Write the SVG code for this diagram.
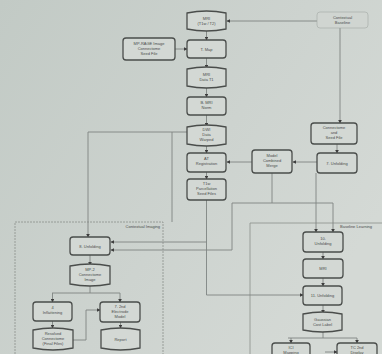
<svg xmlns="http://www.w3.org/2000/svg" width="382" height="354" viewBox="0 0 382 354">
<defs>
<linearGradient id="bg" x1="0" y1="0" x2="1" y2="0.6">
<stop offset="0" stop-color="#c2cac5"/>
<stop offset="0.6" stop-color="#cdd3cf"/>
<stop offset="1" stop-color="#d4d9d5"/>
</linearGradient>
<marker id="ah" viewBox="0 0 6 6" refX="5" refY="3" markerWidth="4" markerHeight="4" orient="auto">
<path d="M0,0 L6,3 L0,6 z" fill="#3e3e3e"/>
</marker>
<style>
.n{fill:#d3d8d4;stroke:#4a4d4b;stroke-width:1.3}
.t{font-family:"Liberation Sans",Arial,sans-serif;font-size:4px;fill:#4a4d4b;text-anchor:middle}
.gl{font-family:"Liberation Sans",Arial,sans-serif;font-size:4px;fill:#4a4d4b}
.c{fill:none;stroke:#7f8582;stroke-width:0.9}
.ca{fill:none;stroke:#7f8582;stroke-width:0.9;marker-end:url(#ah)}
.g{fill:none;stroke:#8a908c;stroke-width:0.8}
</style>
</defs>
<rect width="382" height="354" fill="url(#bg)"/>

<g id="groups">
<rect x="15" y="222" width="148" height="140" class="g" stroke-dasharray="2,1"/>
<text class="gl" x="160" y="228" text-anchor="end">Contextual Imaging</text>
<path d="M250,360 V223 H390" class="g"/>
<text class="gl" x="340" y="228">Baseline Learning</text>
</g>

<g id="connectors">
<path class="ca" d="M206.5,30 V40"/>
<path class="ca" d="M206.5,58 V68"/>
<path class="ca" d="M206.5,87 V97"/>
<path class="ca" d="M206.5,115 V126"/>
<path class="ca" d="M206.5,145 V153"/>
<path class="ca" d="M206.5,172 V179"/>
<path class="ca" d="M175,49 H187"/>
<path class="ca" d="M317,21 H227"/>
<path class="ca" d="M340,28 V123"/>
<path class="ca" d="M337,144 V153"/>
<path class="ca" d="M252,162 H227"/>
<path class="ca" d="M317,162 H293"/>
<path class="c" d="M272,173 V203"/>
<path class="c" d="M232,250 V203 H333"/>
<path class="ca" d="M333,203 V232"/>
<path class="ca" d="M316,173 V232"/>
<path class="ca" d="M206.5,200 V295 H303"/>
<path class="ca" d="M206.5,242 H111"/>
<path class="ca" d="M232,250 H111"/>
<path class="ca" d="M187,132 H88 V237"/>
<path class="c" d="M172,132 V222"/>
<path class="ca" d="M90,255 V265"/>
<path class="c" d="M90,285 V293 M52,293 H120"/>
<path class="ca" d="M52.5,293 V302"/>
<path class="ca" d="M120,293 V302"/>
<path class="ca" d="M52.5,321 V328"/>
<path class="ca" d="M120.5,322 V328"/>
<path class="ca" d="M73,340 H86 V310 H100"/>
<path class="ca" d="M323,252 V259"/>
<path class="ca" d="M323,278 V286"/>
<path class="ca" d="M323,305 V313"/>
<path class="c" d="M323,331 V338 M288,338 H357"/>
<path class="ca" d="M291,338 V343"/>
<path class="ca" d="M357,338 V343"/>
<path class="ca" d="M325,352 H337"/>
</g>

<g id="nodes">
<g id="n1"><path class="n" d="M187,13 Q206.5,9 226,13 V29 Q206.5,33 187,29 Z"/><text class="t" x="206.5" y="20">MRI</text><text class="t" x="206.5" y="25">(T1w / T2)</text></g>
<g id="n2"><rect class="n" x="187" y="40" width="39" height="18" rx="3"/><text class="t" x="206.5" y="50.5">T. Map</text></g>
<g id="n3"><path class="n" d="M187,69 Q206.5,65 226,69 V86 Q206.5,90 187,86 Z"/><text class="t" x="206.5" y="76">MRI</text><text class="t" x="206.5" y="81">Data T1</text></g>
<g id="n4"><rect class="n" x="187" y="97" width="39" height="18" rx="3"/><text class="t" x="206.5" y="104">B. MRI</text><text class="t" x="206.5" y="109">Norm</text></g>
<g id="n5"><path class="n" d="M187,127 Q206.5,123 226,127 V144 Q206.5,148 187,144 Z"/><text class="t" x="206.5" y="131">DWI</text><text class="t" x="206.5" y="136">Data</text><text class="t" x="206.5" y="141">Warped</text></g>
<g id="n6"><rect class="n" x="187" y="153" width="39" height="19" rx="3"/><text class="t" x="206.5" y="160">AT</text><text class="t" x="206.5" y="165">Registration</text></g>
<g id="n7"><rect class="n" x="187" y="179" width="39" height="21" rx="3"/><text class="t" x="206.5" y="185">T1w</text><text class="t" x="206.5" y="190">Parcellation</text><text class="t" x="206.5" y="195">Seed Files</text></g>
<g id="nl"><rect class="n" x="123" y="38" width="52" height="22" rx="3"/><text class="t" x="149" y="45">MP-RAGE Image</text><text class="t" x="149" y="50">Connectome</text><text class="t" x="149" y="55">Seed File</text></g>
<g id="ntr"><rect x="317" y="12" width="51" height="16" rx="3" fill="#d0d5d1" stroke="#a3a9a5" stroke-width="0.6"/><text class="t" x="342.5" y="19">Contextual</text><text class="t" x="342.5" y="24">Baseline</text></g>
<g id="ncn"><rect class="n" x="311" y="123" width="46" height="21" rx="3"/><text class="t" x="334" y="129">Connectome</text><text class="t" x="334" y="134">and</text><text class="t" x="334" y="139">Seed File</text></g>
<g id="nu7"><rect class="n" x="317" y="153" width="40" height="20" rx="3"/><text class="t" x="337" y="164.5">7. Unfolding</text></g>
<g id="nmm"><rect class="n" x="252" y="150" width="40" height="23" rx="3"/><text class="t" x="272" y="157">Model</text><text class="t" x="272" y="162">Combined</text><text class="t" x="272" y="167">Merge</text></g>
<g id="nu8"><rect class="n" x="70" y="237" width="40" height="18" rx="3"/><text class="t" x="90" y="247.5">8. Unfolding</text></g>
<g id="nmp2"><path class="n" d="M70,266 Q90,262 110,266 V284 Q90,288 70,284 Z"/><text class="t" x="90" y="271">MP-2</text><text class="t" x="90" y="276">Connectome</text><text class="t" x="90" y="281">Image</text></g>
<g id="ninf"><rect class="n" x="33" y="302" width="39" height="19" rx="3"/><text class="t" x="52.5" y="309">4</text><text class="t" x="52.5" y="314">Inflattening</text></g>
<g id="ne2"><rect class="n" x="100" y="302" width="40" height="20" rx="3"/><text class="t" x="120" y="308">7. 2nd</text><text class="t" x="120" y="313">Electrode</text><text class="t" x="120" y="318">Model</text></g>
<g id="nres"><path class="n" d="M33,330 Q53,326 73,330 V348 Q53,352 33,348 Z"/><text class="t" x="53" y="335">Resolved</text><text class="t" x="53" y="340">Connectome</text><text class="t" x="53" y="345">(Final Files)</text></g>
<g id="nrep"><path class="n" d="M101,330 Q120.5,326 140,330 V348 Q120.5,352 101,348 Z"/><text class="t" x="120.5" y="341">Report</text></g>
<g id="nu10"><rect class="n" x="303" y="232" width="40" height="20" rx="3"/><text class="t" x="323" y="240">10.</text><text class="t" x="323" y="245">Unfolding</text></g>
<g id="nmri2"><rect class="n" x="303" y="259" width="40" height="19" rx="3"/><text class="t" x="323" y="270">MRI</text></g>
<g id="nu11"><rect class="n" x="303" y="286" width="39" height="19" rx="3"/><text class="t" x="322.5" y="297">11. Unfolding</text></g>
<g id="ngc"><path class="n" d="M303,314 Q322.5,310 342,314 V330 Q322.5,334 303,330 Z"/><text class="t" x="322.5" y="321">Gaussian</text><text class="t" x="322.5" y="326">Cost Label</text></g>
<g id="nbl"><rect class="n" x="272" y="343" width="38" height="20" rx="3"/><text class="t" x="291" y="349">ICI</text><text class="t" x="291" y="354">Mapping</text></g>
<g id="nbr"><rect class="n" x="337" y="343" width="40" height="20" rx="3"/><text class="t" x="357" y="349">TC 2nd</text><text class="t" x="357" y="354">Display</text></g>
</g>
</svg>
